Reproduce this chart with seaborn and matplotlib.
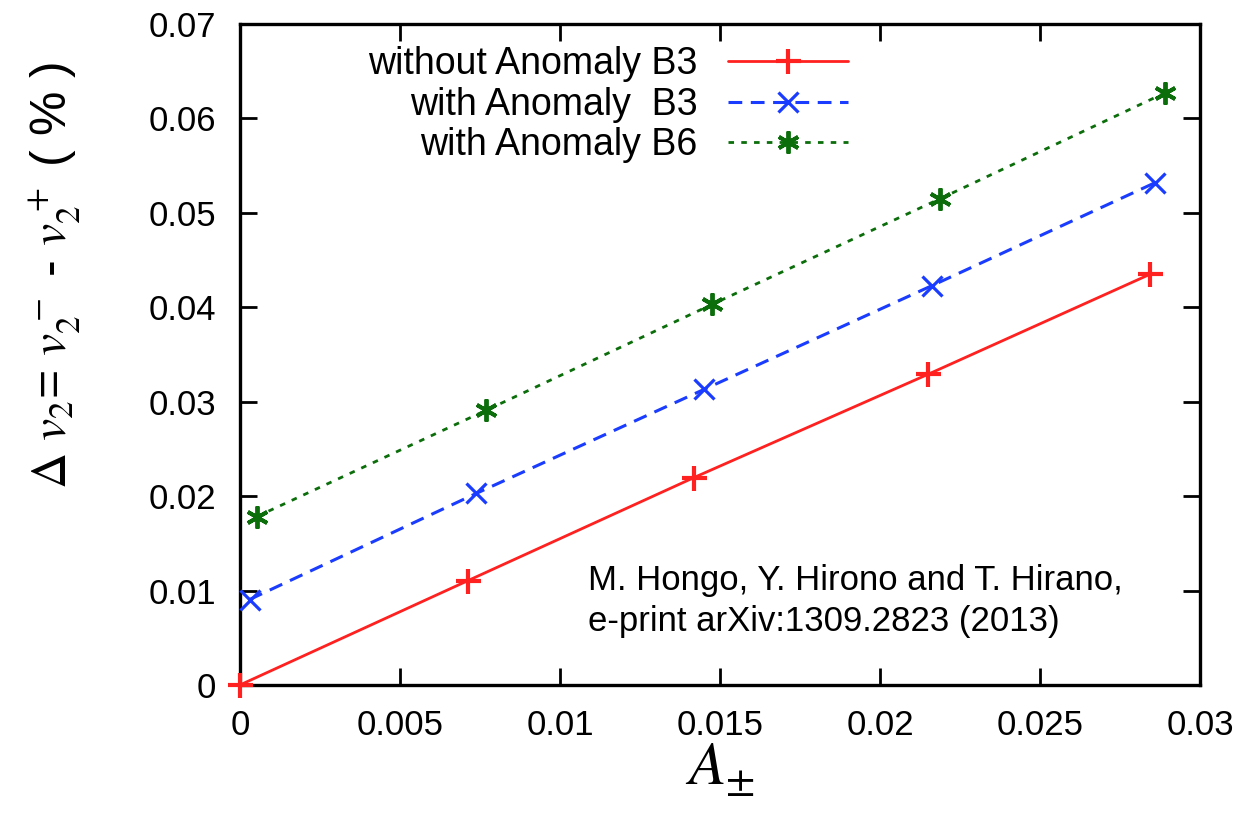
import matplotlib
matplotlib.use("Agg")
import matplotlib.pyplot as plt
import seaborn as sns
import pandas as pd

# Asymmetry parameter A_± and elliptic-flow splitting Δv2 (%)
a_without_b3 = [0.0, 0.00713, 0.01419, 0.0215, 0.02844]
dv2_without_b3 = [0.0, 0.01106, 0.02197, 0.0329, 0.0435]

a_with_b3 = [0.0003, 0.00738, 0.0145, 0.02163, 0.0286]
dv2_with_b3 = [0.00905, 0.02028, 0.0313, 0.0423, 0.0532]

a_with_b6 = [0.00053, 0.0077, 0.01475, 0.02188, 0.0289]
dv2_with_b6 = [0.01784, 0.0291, 0.0403, 0.0515, 0.0627]

series_labels = ["without Anomaly B3", "with Anomaly  B3", "with Anomaly B6"]

x_ticks = [0, 0.005, 0.01, 0.015, 0.02, 0.025, 0.03]
x_tick_labels = ["0", "0.005", "0.01", "0.015", "0.02", "0.025", "0.03"]
y_ticks = [0, 0.01, 0.02, 0.03, 0.04, 0.05, 0.06, 0.07]
y_tick_labels = ["0", "0.01", "0.02", "0.03", "0.04", "0.05", "0.06", "0.07"]

sns.set_theme(style="ticks")
plt.rcParams["font.family"] = ["Liberation Sans", "DejaVu Sans"]
plt.rcParams["mathtext.fontset"] = "stix"
plt.rcParams["text.color"] = "black"
plt.rcParams["axes.labelcolor"] = "black"

fig = plt.figure(figsize=(12.53, 8.22), dpi=100)
ax = fig.add_axes([0.1915, 0.1667, 0.7662, 0.8041])

styles = [
    dict(color="#ff2020", marker="+", linestyle="-", lw=2.0, ms=18, mew=3.0),
    dict(color="#1a3cff", marker="x", linestyle=(0, (4.5, 2.8)), lw=2.2, ms=14, mew=2.3),
    dict(color="#0b6e0b", marker=(6, 2, 0), linestyle=(0, (2, 2.6)), lw=2.0, ms=16, mew=2.8),
]
datasets = [
    (a_without_b3, dv2_without_b3),
    (a_with_b3, dv2_with_b3),
    (a_with_b6, dv2_with_b6),
]

for (xs, ys), label, st in zip(datasets, series_labels, styles):
    df = pd.DataFrame({"A": xs, "dv2": ys})
    sns.lineplot(data=df, x="A", y="dv2", ax=ax, label=label,
                 color=st["color"], marker=st["marker"], linestyle=st["linestyle"],
                 linewidth=st["lw"], markersize=st["ms"], markeredgewidth=st["mew"],
                 markeredgecolor=st["color"], clip_on=False, zorder=3)

ax.set_xlim(0, 0.03)
ax.set_ylim(0, 0.07)
ax.set_xticks(x_ticks)
ax.set_xticklabels(x_tick_labels)
ax.set_yticks(y_ticks)
ax.set_yticklabels(y_tick_labels)

ax.tick_params(axis="both", which="major", direction="in", length=12, width=2,
               labelsize=25, top=True, right=True, colors="black")
ax.tick_params(axis="y", pad=17)
ax.tick_params(axis="x", pad=17)
for sp in ax.spines.values():
    sp.set_linewidth(2.4)
    sp.set_color("black")
    sp.set_visible(True)

ax.set_xlabel(r"$A_{\pm}$", fontsize=44, labelpad=0)
ax.set_ylabel(r"$\Delta\ v_2$= $v_2^{\,-}$ - $v_2^{\,+}$ ( % )", fontsize=36)
ax.yaxis.set_label_coords(-0.163, 0.62)

ax.text(0.3625, 0.127, "M. Hongo, Y. Hirono and T. Hirano,\ne-print arXiv:1309.2823 (2013)",
        transform=ax.transAxes, fontsize=25, ha="left", va="center", linespacing=1.3,
        color="black")

leg = ax.legend(loc="upper right", bbox_to_anchor=(0.633, 0.966), frameon=False,
                markerfirst=False, fontsize=27, handlelength=3.2, handletextpad=0.8,
                labelspacing=0.12, borderaxespad=0.0, borderpad=0.0)
for t in leg.get_texts():
    t.set_ha("right")
    t.set_color("black")
leg._legend_box.align = "right"

fig.savefig("out.png", dpi=100, facecolor="white")
